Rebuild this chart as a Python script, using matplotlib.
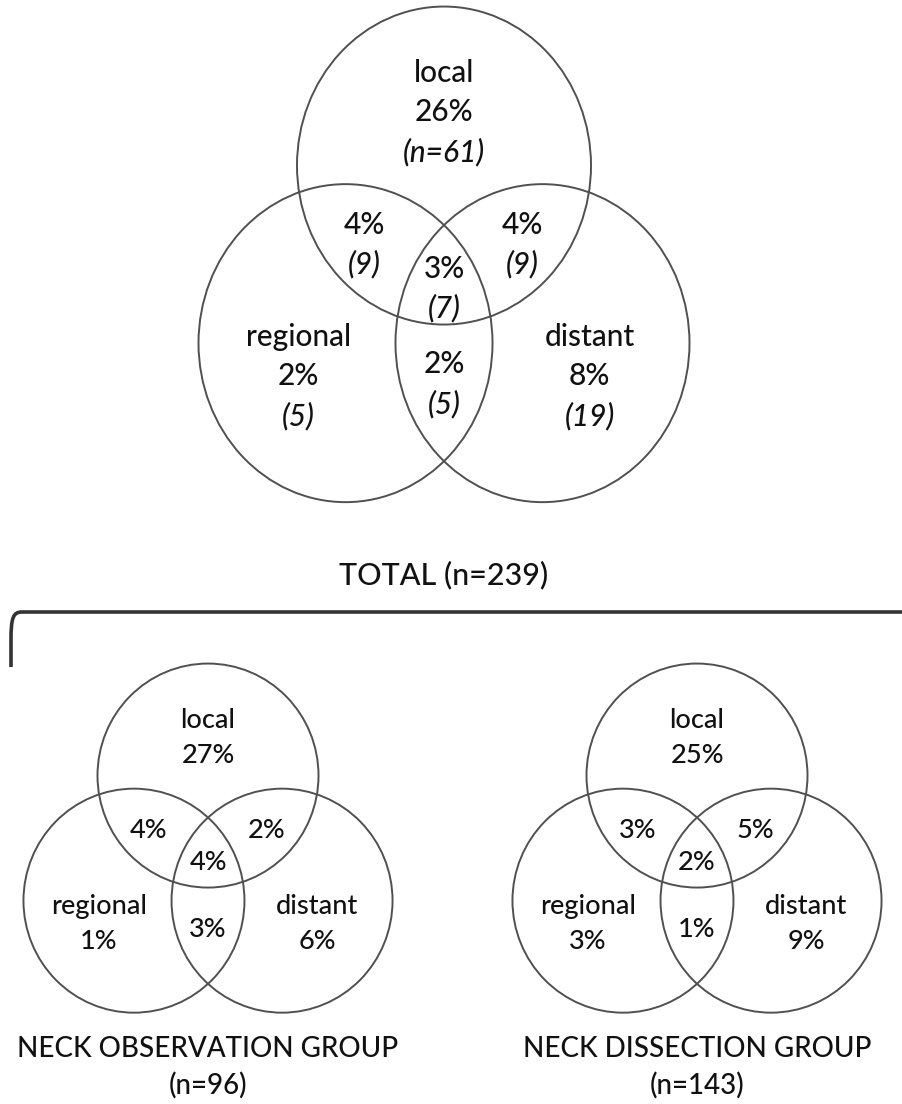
import matplotlib.pyplot as plt
from matplotlib.patches import Ellipse, PathPatch
from matplotlib.path import Path

# Venn data: regions are local only, regional only, distant only,
# local+regional, local+distant, regional+distant, all three
set_names = ['local', 'regional', 'distant']
total_pct = [26, 2, 8, 4, 4, 2, 3]
total_n = [61, 5, 19, 9, 9, 5, 7]
obs_pct = [27, 1, 6, 4, 2, 3, 4]
diss_pct = [25, 3, 9, 3, 5, 1, 2]
titles = ['TOTAL (n=239)', 'NECK OBSERVATION GROUP\n(n=96)', 'NECK DISSECTION GROUP\n(n=143)']

plt.rcParams['font.family'] = ['Lato', 'DejaVu Sans']
TXT = '#111111'
EDGE = '#505050'

fig = plt.figure(figsize=(9.02, 11.04), dpi=100)
ax = fig.add_axes([0, 0, 1, 1])
ax.set_xlim(0, 902)
ax.set_ylim(1104, 0)
ax.axis('off')

# where each region's text block sits, in units of the circle radii
region_pos = [(0, -1.08), (-0.99, 0.58), (0.99, 0.58),
              (-0.54, -0.25), (0.53, -0.25), (0, 0.63), (0, 0.03)]


def draw_venn(cx, cy, rx, ry, pct, n=None, fs=19):
    centers = [(cx, cy - 0.745 * ry), (cx - 0.67 * rx, cy + 0.372 * ry), (cx + 0.67 * rx, cy + 0.372 * ry)]
    for x, y in centers:
        ax.add_patch(Ellipse((x, y), 2 * rx, 2 * ry, fill=False, ec=EDGE, lw=1.4))
    lh = 1.32 * fs * 100 / 72
    for i, (dx, dy) in enumerate(region_pos):
        lines = []
        if i < 3:
            lines.append((set_names[i], 'normal'))
        lines.append(('%d%%' % pct[i], 'normal'))
        if n is not None:
            if i == 0:
                lines.append(('(n=%d)' % n[i], 'italic'))
            else:
                lines.append(('(%d)' % n[i], 'italic'))
        x0 = cx + dx * rx
        y0 = cy + dy * ry - (len(lines) - 1) * lh / 2
        for k, (s, st) in enumerate(lines):
            ax.text(x0, y0 + k * lh, s, ha='center', va='center', fontsize=fs, style=st,
                    fontweight='medium', color=TXT)


draw_venn(444, 284, 147, 159, total_pct, total_n, fs=21.5)
ax.text(444, 575, titles[0], ha='center', va='center', fontsize=22, fontweight='medium', color=TXT)

draw_venn(208, 859, 110.5, 112, obs_pct, fs=19.5)
ax.text(208, 1067, titles[1], ha='center', va='center', fontsize=20, fontweight='medium',
        color=TXT, linespacing=1.45)

draw_venn(697, 859, 110.5, 112, diss_pct, fs=19.5)
ax.text(697, 1067, titles[2], ha='center', va='center', fontsize=20, fontweight='medium',
        color=TXT, linespacing=1.45)

# bracket over the two subgroups
verts = [(11, 667), (11, 640), (11, 618), (13, 612), (22, 612), (902, 612)]
codes = [Path.MOVETO, Path.LINETO, Path.CURVE4, Path.CURVE4, Path.CURVE4, Path.LINETO]
ax.add_patch(PathPatch(Path(verts, codes), fill=False, ec='#333333', lw=2.6))

fig.savefig('out.png', dpi=100)
